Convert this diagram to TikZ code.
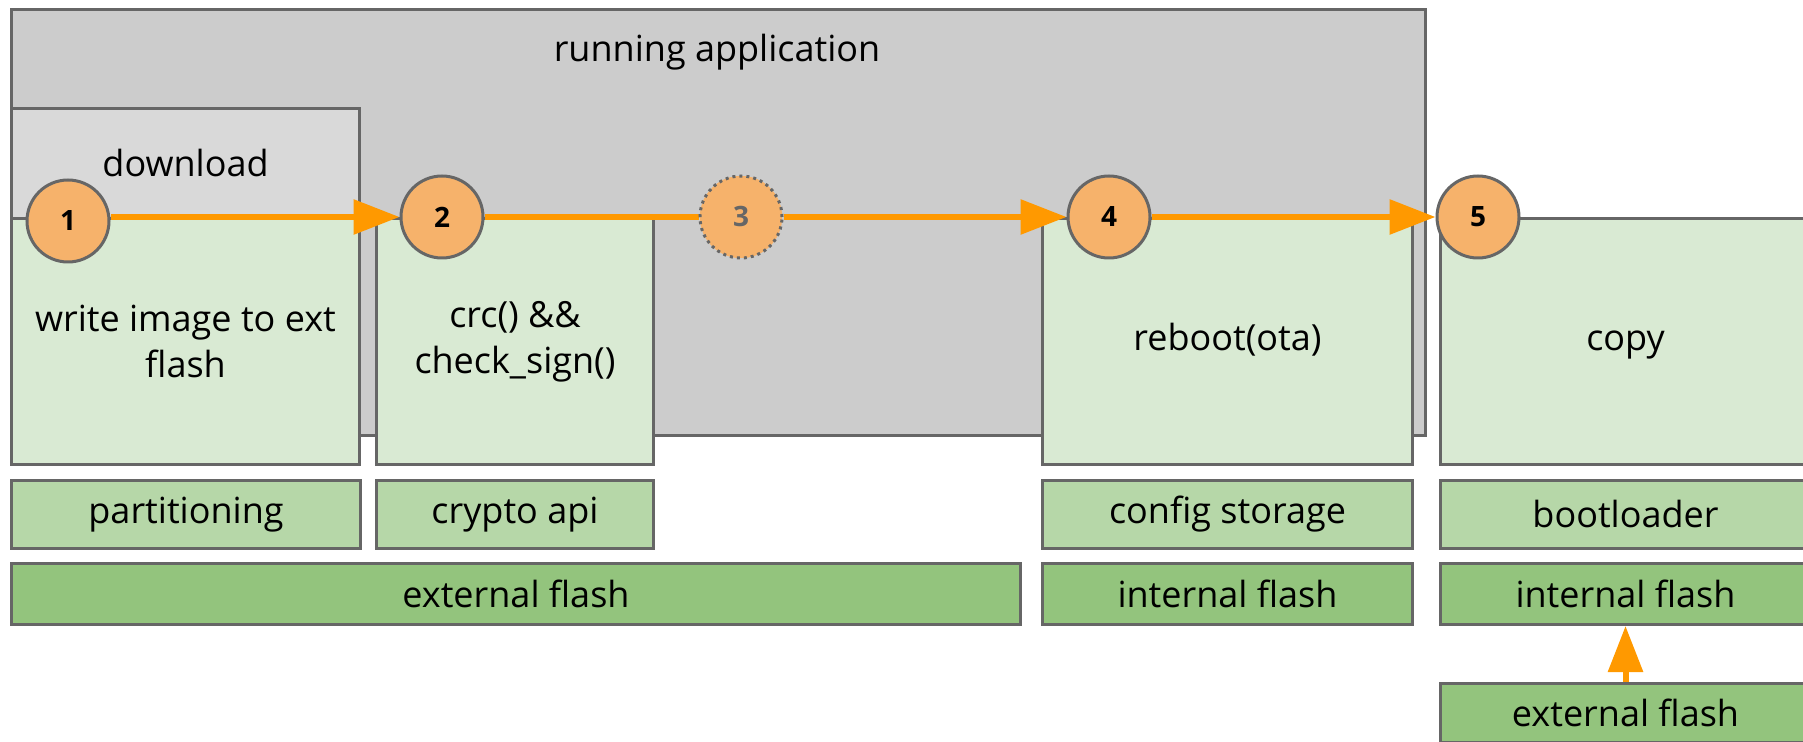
\documentclass[tikz,border=0pt]{standalone}
\usepackage{fontspec}
\setmainfont{Open Sans}
\usetikzlibrary{arrows.meta}
\definecolor{bordergray}{HTML}{666666}
\definecolor{appgray}{HTML}{CCCCCC}
\definecolor{dlgray}{HTML}{D9D9D9}
\definecolor{lightgreen}{HTML}{D9EAD3}
\definecolor{midgreen}{HTML}{B6D7A8}
\definecolor{darkgreen}{HTML}{93C47D}
\definecolor{stepfill}{HTML}{F6B26B}
\definecolor{flow}{HTML}{FF9900}
\tikzset{
  box/.style={draw=bordergray, line width=1.5pt, rectangle, anchor=north west, inner sep=0pt, align=center,
    font=\fontsize{18}{23}\selectfont},
  txt/.style={inner sep=0pt, align=center, font=\fontsize{18}{23}\selectfont},
  stepcircle/.style={circle, draw=bordergray, line width=1.5pt, fill=stepfill, minimum size=41pt, inner sep=0pt,
    font=\fontsize{14}{16}\selectfont\bfseries},
  flowline/.style={draw=flow, line width=3pt},
  flowarrow/.style={flowline, -{Triangle[length=23pt,width=17pt]}},
}
\begin{document}
\begin{tikzpicture}[x=0.5pt,y=-0.5pt]
\useasboundingbox (0,0) rectangle (1803,742);
% running application
\node[box, fill=appgray, minimum width=707pt, minimum height=213pt] (app) at (10,8) {};
\node[txt] (applabel) at (717,52) {running application};
\node[box, fill=dlgray, minimum width=174pt, minimum height=55pt] (dl) at (10,107) {download};
% step boxes
\node[box, fill=lightgreen, minimum width=174pt, minimum height=123pt] (write) at (10,217) {write image to ext\\flash};
\node[box, fill=lightgreen, minimum width=138.5pt, minimum height=123pt] (crc) at (375,217) {crc() \&\&\\check\_sign()};
\node[box, fill=lightgreen, minimum width=185pt, minimum height=123pt] (reboot) at (1041,217) {reboot(ota)\strut};
\node[box, fill=lightgreen, minimum width=185pt, minimum height=123pt] (copy) at (1439,217) {copy\strut};
% row 2
\node[box, fill=midgreen, minimum width=174.5pt, minimum height=34pt] (part) at (10,479) {partitioning};
\node[box, fill=midgreen, minimum width=138.5pt, minimum height=34pt] (crypto) at (375,479) {crypto api};
\node[box, fill=midgreen, minimum width=185pt, minimum height=34pt] (config) at (1041,479) {config storage};
\node[box, fill=midgreen, minimum width=185pt, minimum height=34pt] (boot) at (1439,479) {bootloader};
% row 3
\node[box, fill=darkgreen, minimum width=504.5pt, minimum height=30.5pt] (extA) at (10,562) {external flash};
\node[box, fill=darkgreen, minimum width=185pt, minimum height=30.5pt] (intA) at (1041,562) {internal flash};
\node[box, fill=darkgreen, minimum width=185pt, minimum height=30.5pt] (intB) at (1439,562) {internal flash};
% row 4
\node[box, fill=darkgreen, minimum width=185pt, minimum height=29.5pt] (extB) at (1439,682) {external flash};
% circles
\node[stepcircle] (c1) at (68,221) {1};
\node[stepcircle] (c2) at (442,217) {2};
\node[stepcircle, draw=none] (c3) at (741,217) {};
\node[stepcircle] (c4) at (1109,217) {4};
\node[stepcircle] (c5) at (1478,217) {5};
% flow
\draw[flowarrow] (c2.west -| c1.east) -- (c2.west);
\draw[flowline] (c2.east) -- (c3.west);
\draw[flowarrow] (c3.east) -- (c4.west);
\draw[flowarrow] (c4.east) -- (c5.west);
\draw[flowarrow] (extB.north) -- (intB.south);
\node[stepcircle, draw=bordergray, dotted, text=bordergray] (c3b) at (c3) {3};
\end{tikzpicture}
\end{document}
